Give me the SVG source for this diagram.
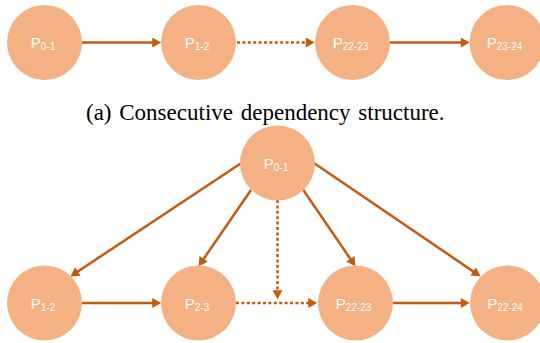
<svg xmlns="http://www.w3.org/2000/svg" width="540" height="343" viewBox="0 0 540 343">
<style>
.node{fill:#F4B183;}
.lbl{fill:#ffffff;font-family:"Liberation Sans","DejaVu Sans",sans-serif;font-size:15px;text-anchor:middle;}
.sub{font-size:10px;}
.edge{stroke:#C55A11;stroke-width:2.5;fill:none;marker-end:url(#ah);}
.dot{stroke-dasharray:3 2.4;}
.cap{font-family:"Liberation Serif","Times New Roman",serif;font-size:23px;fill:#000;}
</style>
<defs>
<marker id="ah" markerUnits="userSpaceOnUse" markerWidth="10" markerHeight="10" viewBox="0 0 8 9" refX="2" refY="4.5" orient="auto">
<path d="M0,0 L8,4.5 L0,9 Z" fill="#C55A11"/>
</marker>
</defs>
<g id="connectors">
<line class="edge" x1="82" y1="42.5" x2="154.5" y2="42.5"/>
<line class="edge dot" x1="237" y1="42.5" x2="308" y2="42.5"/>
<line class="edge" x1="390" y1="42.5" x2="463" y2="42.5"/>
<line class="edge" x1="82" y1="303" x2="154.5" y2="303"/>
<line class="edge dot" x1="236" y1="303" x2="310.5" y2="303"/>
<line class="edge" x1="393" y1="303" x2="463" y2="303"/>
<line class="edge" x1="241" y1="163.3" x2="76" y2="272.7"/>
<line class="edge" x1="251" y1="190" x2="202.4" y2="260.7"/>
<line class="edge dot" x1="277.5" y1="200" x2="277.5" y2="292.5"/>
<line class="edge" x1="303.3" y1="190" x2="351.6" y2="260.7"/>
<line class="edge" x1="314.3" y1="163.3" x2="475" y2="272.6"/>
</g>
<g id="a_p01"><circle class="node" cx="44.5" cy="42.5" r="37.5"/><text class="lbl" x="43" y="48">P<tspan class="sub" dy="2">0-1</tspan></text></g>
<g id="a_p12"><circle class="node" cx="198.5" cy="42.5" r="37.5"/><text class="lbl" x="197" y="48">P<tspan class="sub" dy="2">1-2</tspan></text></g>
<g id="a_p2223"><circle class="node" cx="352.5" cy="42.5" r="37.5"/><text class="lbl" x="350.5" y="48">P<tspan class="sub" dy="2">22-23</tspan></text></g>
<g id="a_p2324"><circle class="node" cx="507" cy="42.5" r="37.5"/><text class="lbl" x="504.5" y="48">P<tspan class="sub" dy="2">23-24</tspan></text></g>
<text id="caption" class="cap" x="86" y="119.5" word-spacing="2">(a) Consecutive dependency structure.</text>
<g id="b_p01"><circle class="node" cx="277.5" cy="163" r="37.5"/><text class="lbl" x="276" y="168.5">P<tspan class="sub" dy="2">0-1</tspan></text></g>
<g id="b_p12"><circle class="node" cx="44.5" cy="303" r="37.5"/><text class="lbl" x="43" y="308.5">P<tspan class="sub" dy="2">1-2</tspan></text></g>
<g id="b_p23"><circle class="node" cx="198.5" cy="303" r="37.5"/><text class="lbl" x="197" y="308.5">P<tspan class="sub" dy="2">2-3</tspan></text></g>
<g id="b_p2223"><circle class="node" cx="355.5" cy="303" r="37.5"/><text class="lbl" x="353.5" y="308.5">P<tspan class="sub" dy="2">22-23</tspan></text></g>
<g id="b_p2224"><circle class="node" cx="507.5" cy="303" r="37.5"/><text class="lbl" x="505" y="308.5">P<tspan class="sub" dy="2">22-24</tspan></text></g>
</svg>
